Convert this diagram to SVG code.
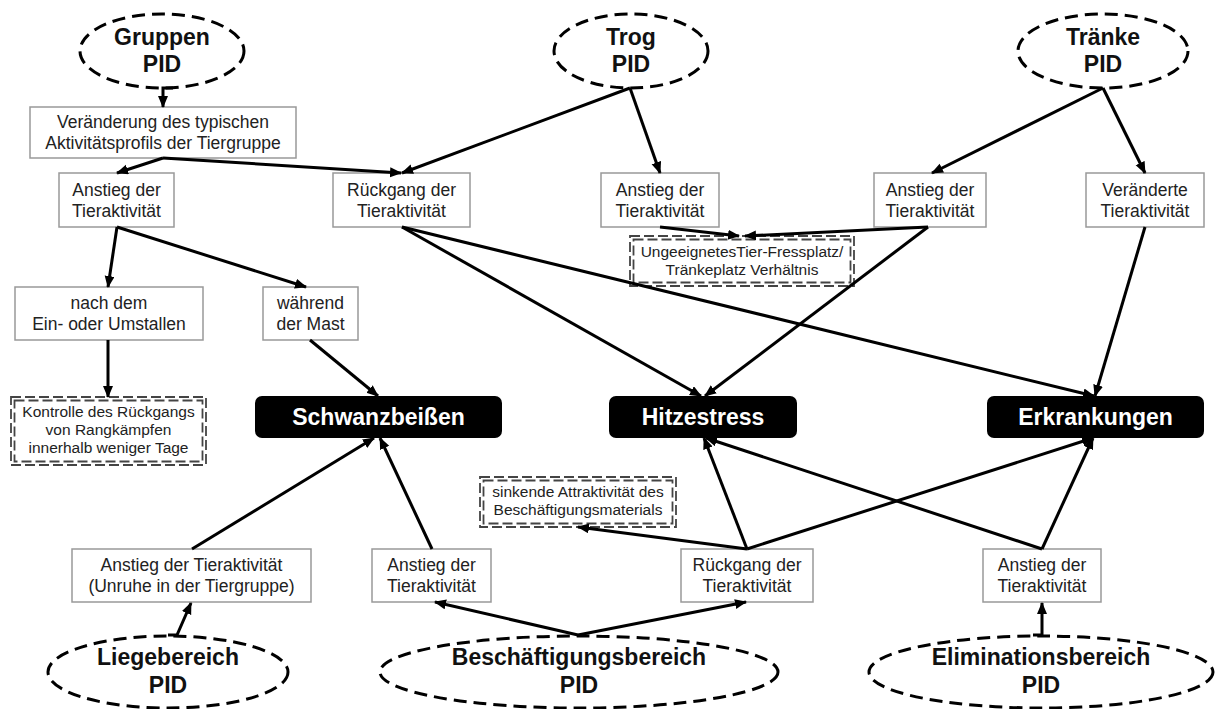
<svg xmlns="http://www.w3.org/2000/svg" width="1215" height="709" viewBox="0 0 1215 709">
<style>
text{font-family:"Liberation Sans",Arial,sans-serif;text-anchor:middle;fill:#222}
.r{fill:#fff;stroke:#999;stroke-width:1.5}
.t{font-size:17.5px}
.s{font-size:15.5px}
.b{font-size:23px;font-weight:bold;fill:#111}
.w{font-size:23px;font-weight:bold;fill:#fff}
.e{fill:#fff;stroke:#000;stroke-width:3;stroke-dasharray:13 7}
.k{fill:#000}
.d{fill:none;stroke:#444;stroke-width:1.8;stroke-dasharray:10 4}
.c path{fill:none;stroke:#000;stroke-width:3;marker-end:url(#a)}
</style>
<defs>
<marker id="a" markerUnits="userSpaceOnUse" markerWidth="13" markerHeight="11" refX="11" refY="5" orient="auto">
<path d="M0,0 L12,5 L0,10 z" fill="#000"/>
</marker>
</defs>
<rect width="1215" height="709" fill="#fff"/>

<g id="gruppen"><ellipse class="e" cx="162" cy="51" rx="82" ry="37"/><text class="b" x="162" y="45">Gruppen</text><text class="b" x="162" y="72">PID</text></g>
<g id="trog"><ellipse class="e" cx="631" cy="51" rx="77" ry="37"/><text class="b" x="631" y="45">Trog</text><text class="b" x="631" y="72">PID</text></g>
<g id="traenke"><ellipse class="e" cx="1103" cy="51" rx="85" ry="37"/><text class="b" x="1103" y="45">Tränke</text><text class="b" x="1103" y="72">PID</text></g>

<g id="veraenderung"><rect class="r" x="30" y="107" width="266" height="51"/><text class="t" x="163" y="128">Veränderung des typischen</text><text class="t" x="163" y="149">Aktivitätsprofils der Tiergruppe</text></g>
<g id="anstieg1"><rect class="r" x="59" y="173" width="115" height="54"/><text class="t" x="116.5" y="196">Anstieg der</text><text class="t" x="116.5" y="217">Tieraktivität</text></g>
<g id="rueckgang1"><rect class="r" x="333" y="173" width="137" height="54"/><text class="t" x="401.5" y="196">Rückgang der</text><text class="t" x="401.5" y="217">Tieraktivität</text></g>
<g id="anstieg2"><rect class="r" x="601" y="173" width="118" height="54"/><text class="t" x="660" y="196">Anstieg der</text><text class="t" x="660" y="217">Tieraktivität</text></g>
<g id="anstieg3"><rect class="r" x="874" y="173" width="112" height="54"/><text class="t" x="930" y="196">Anstieg der</text><text class="t" x="930" y="217">Tieraktivität</text></g>
<g id="veraenderte"><rect class="r" x="1086" y="173" width="118" height="54"/><text class="t" x="1145" y="196">Veränderte</text><text class="t" x="1145" y="217">Tieraktivität</text></g>

<g id="ungeeignet"><rect class="d" x="630" y="236" width="224" height="50"/><rect class="d" x="633.5" y="239.5" width="217" height="43"/><text class="s" x="742" y="257">UngeeignetesTier-Fressplatz/</text><text class="s" x="742" y="275">Tränkeplatz Verhältnis</text></g>

<g id="nachdem"><rect class="r" x="15" y="287" width="188" height="53"/><text class="t" x="109" y="309">nach dem</text><text class="t" x="109" y="330">Ein- oder Umstallen</text></g>
<g id="waehrend"><rect class="r" x="263" y="287" width="95" height="53"/><text class="t" x="310.5" y="309">während</text><text class="t" x="310.5" y="330">der Mast</text></g>

<g id="kontrolle"><rect class="d" x="11" y="397" width="195" height="68"/><rect class="d" x="14.5" y="400.5" width="188" height="61"/><text class="s" x="108.5" y="417">Kontrolle des Rückgangs</text><text class="s" x="108.5" y="435">von Rangkämpfen</text><text class="s" x="108.5" y="453">innerhalb weniger Tage</text></g>

<g id="schwanz"><rect class="k" x="255" y="396" width="247" height="42" rx="7"/><text class="w" x="378.5" y="425">Schwanzbeißen</text></g>
<g id="hitze"><rect class="k" x="609" y="396" width="188" height="42" rx="7"/><text class="w" x="703" y="425">Hitzestress</text></g>
<g id="erkrank"><rect class="k" x="987" y="396" width="217" height="42" rx="7"/><text class="w" x="1095.5" y="425">Erkrankungen</text></g>

<g id="sinkende"><rect class="d" x="480" y="477" width="196" height="50"/><rect class="d" x="483.5" y="480.5" width="189" height="43"/><text class="s" x="578" y="497">sinkende Attraktivität des</text><text class="s" x="578" y="515">Beschäftigungsmaterials</text></g>

<g id="unruhe"><rect class="r" x="72" y="549" width="239" height="53"/><text class="t" x="191.5" y="571">Anstieg der Tieraktivität</text><text class="t" x="191.5" y="592">(Unruhe in der Tiergruppe)</text></g>
<g id="anstieg4"><rect class="r" x="372" y="549" width="119" height="53"/><text class="t" x="431.5" y="571">Anstieg der</text><text class="t" x="431.5" y="592">Tieraktivität</text></g>
<g id="rueckgang2"><rect class="r" x="681" y="549" width="132" height="53"/><text class="t" x="747" y="571">Rückgang der</text><text class="t" x="747" y="592">Tieraktivität</text></g>
<g id="anstieg5"><rect class="r" x="983" y="549" width="118" height="53"/><text class="t" x="1042" y="571">Anstieg der</text><text class="t" x="1042" y="592">Tieraktivität</text></g>

<g id="liege"><ellipse class="e" cx="168" cy="672" rx="120" ry="36"/><text class="b" x="168" y="665">Liegebereich</text><text class="b" x="168" y="693">PID</text></g>
<g id="beschaeft"><ellipse class="e" cx="579" cy="672" rx="199" ry="36"/><text class="b" x="579" y="665">Beschäftigungsbereich</text><text class="b" x="579" y="693">PID</text></g>
<g id="elim"><ellipse class="e" cx="1041" cy="672" rx="172" ry="36"/><text class="b" x="1041" y="665">Eliminationsbereich</text><text class="b" x="1041" y="693">PID</text></g>

<g id="connectors" class="c">
<path d="M173,88 H163 V107"/>
<path d="M163,158 L117,173"/>
<path d="M163,158 L401,173"/>
<path d="M630,88 L402,173"/>
<path d="M630,88 L660,173"/>
<path d="M1103,88 L932,173"/>
<path d="M1103,88 L1145,173"/>
<path d="M117,227 L108,287"/>
<path d="M117,227 L306,287"/>
<path d="M108,340 L108,397"/>
<path d="M310,340 L378,396"/>
<path d="M402,227 L701,396"/>
<path d="M402,227 L1094,396"/>
<path d="M660,227 L739,236"/>
<path d="M928,227 L745,236"/>
<path d="M928,227 L705,396"/>
<path d="M1145,227 L1095,396"/>
<path d="M192,549 L374,438"/>
<path d="M432,549 L380,438"/>
<path d="M168,635 H177 L191,603"/>
<path d="M578,635 L435,602"/>
<path d="M578,635 L746,602"/>
<path d="M747,549 L578,527"/>
<path d="M747,549 L704,438"/>
<path d="M747,549 L1093,438"/>
<path d="M1042,549 L706,438"/>
<path d="M1042,549 L1093,438"/>
<path d="M1033,635 H1042 V603"/>
</g>
</svg>
